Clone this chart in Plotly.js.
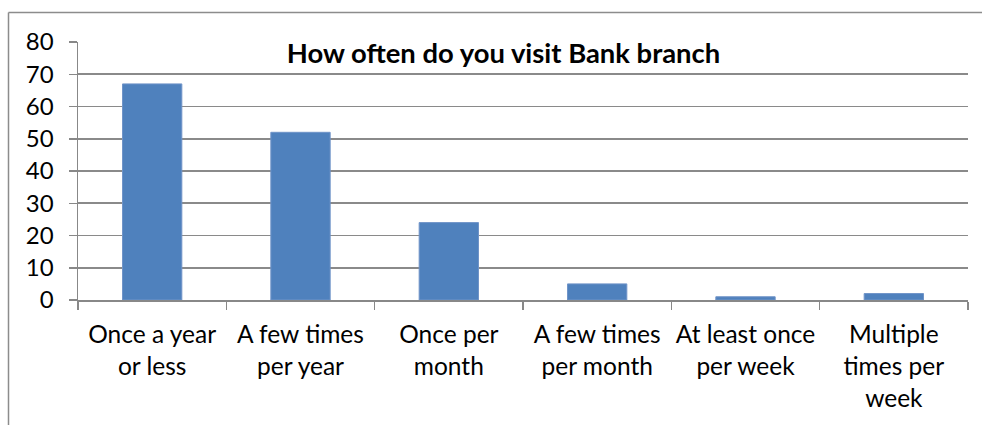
<!DOCTYPE html>
<html><head><meta charset="utf-8">
<script src="https://cdn.plot.ly/plotly-3.0.1.min.js"></script>
<style>html,body{margin:0;padding:0;background:#fff}#c{width:982px;height:425px}</style>
</head><body><div id="c"></div>
<script>
const categories = ["Once a year<br>or less","A few times<br>per year","Once per<br>month","A few times<br>per month","At least once<br>per week","Multiple<br>times per<br>week"];
const values = [67, 52, 24, 5, 1, 2];
const yTicks = [0,10,20,30,40,50,60,70,80];
const titleText = "How often do you visit Bank branch";

const W=982,H=425,L=78,R=14,T=42,B=125;
const pw=W-L-R, ph=H-T-B;
const px = x => (x-L)/pw;
const py = y => (H-B-y)/ph;
const FONT = "Lato, 'Open Sans', sans-serif";

Plotly.newPlot('c',[{
  type:'bar', x:categories, y:values,
  marker:{color:'#4F81BD', line:{color:'#7094c8', width:1}},
  hoverinfo:'skip'
}],{
  width:W,height:H,
  margin:{l:L,r:R,t:T,b:B,pad:0},
  paper_bgcolor:'#fff',plot_bgcolor:'#fff',
  bargap:0.6,
  showlegend:false,
  font:{family:FONT,color:'#000',size:24},
  title:{text:'<b>'+titleText+'</b>', font:{family:FONT,size:27.4,color:'#000'},
         xref:'paper', x:px(503.5), xanchor:'center', yref:'container', y:1-53/H, yanchor:'middle'},
  xaxis:{type:'category', tickson:'boundaries', ticks:'outside', ticklen:8, tickcolor:'#888', tickwidth:1.5,
         showline:true, linecolor:'#888', linewidth:1.5, showgrid:false, tickangle:0, ticklabelstandoff:12,
         tickfont:{family:FONT,size:24.5,color:'#000'}, fixedrange:true},
  yaxis:{range:[0,80], tickvals:yTicks, ticktext:yTicks.map(String), ticks:'outside', ticklen:8, tickcolor:'#888', tickwidth:1.5,
         showline:true, linecolor:'#888', linewidth:1.5, showgrid:true, gridcolor:'#8a8a8a', gridwidth:1.6,
         zeroline:false, ticklabelstandoff:10, tickfont:{family:FONT,size:24,color:'#000'}, fixedrange:true},
  shapes:[
    {type:'line', xref:'paper', yref:'paper', x0:px(8.5), x1:px(8.5), y0:py(12.5), y1:py(430), line:{color:'#8c8c8c',width:1.5}},
    {type:'line', xref:'paper', yref:'paper', x0:px(8.5), x1:px(990), y0:py(12.5), y1:py(12.5), line:{color:'#8c8c8c',width:1.5}}
  ]
},{staticPlot:true});
</script></body></html>
